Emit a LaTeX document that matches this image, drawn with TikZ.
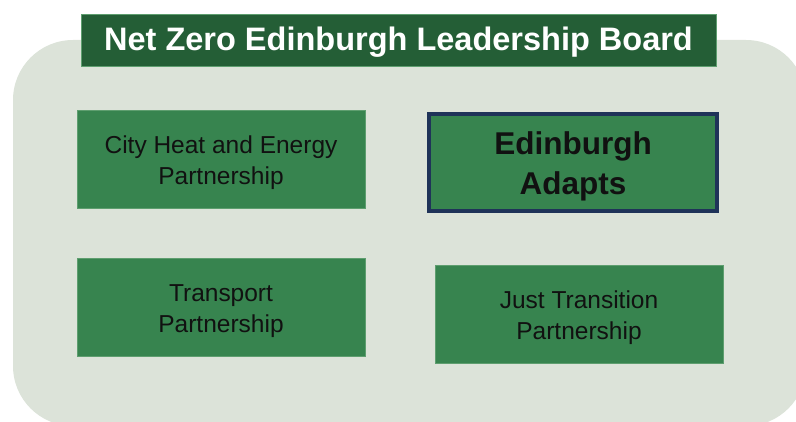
\documentclass[tikz,border=0pt]{standalone}
\usepackage{fontspec}
\setmainfont{Liberation Sans}
\definecolor{panelbg}{HTML}{DCE3D9}
\definecolor{boardgreen}{HTML}{245E36}
\definecolor{boxgreen}{HTML}{37844F}
\definecolor{boxedge}{HTML}{5E9E6F}
\definecolor{navy}{HTML}{1F3359}
\definecolor{textdark}{HTML}{111111}
% invisible strut that lowers two-line labels a little inside their boxes
\newcommand{\toppad}[1]{\rule{0pt}{#1}}
\begin{document}
\begin{tikzpicture}[x=1pt,y=-1pt,
  partner/.style={fill=boxgreen, draw=boxedge, line width=0.8pt, minimum width=288pt,
    minimum height=98pt, align=center, text=textdark, inner sep=0pt,
    font=\fontsize{24.5}{31}\selectfont},
  lead/.style={partner, draw=navy, line width=3.5pt, minimum width=288pt, minimum height=97pt,
    font=\fontsize{31.5}{40}\bfseries\selectfont},
  board/.style={fill=boardgreen, draw=boxedge, line width=0.6pt, minimum width=635pt,
    minimum height=52pt, text=white, inner sep=0pt, text height=29pt, text depth=7pt,
    font=\fontsize{32.5}{38}\bfseries\selectfont}]
  \useasboundingbox (0,0) rectangle (796,422);
  \begin{scope}
    \clip (0,0) rectangle (796,422);
    \fill[panelbg, rounded corners=60pt] (13,40) rectangle (806,426);
  \end{scope}
  \node[board] (board) at (398.5,40) {Net Zero Edinburgh Leadership Board};
  \node[partner] (heat) at (221,159) {\toppad{25pt}City Heat and Energy\\Partnership};
  \node[lead] (adapts) at (573,162.5) {\toppad{31pt}Edinburgh\\Adapts};
  \node[partner] (transport) at (221,307.5) {\toppad{25pt}Transport\\Partnership};
  \node[partner] (just) at (579,314.5) {\toppad{25pt}Just Transition\\Partnership};
\end{tikzpicture}
\end{document}
